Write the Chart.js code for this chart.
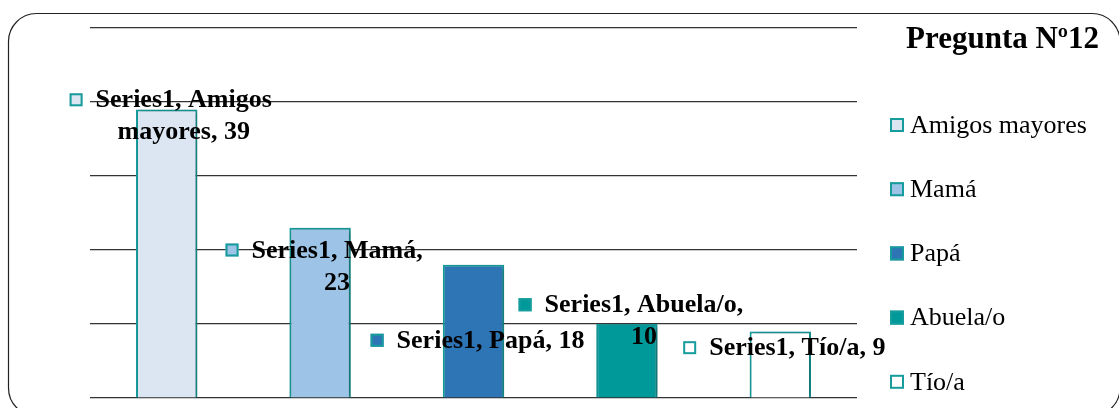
<!DOCTYPE html>
<html>
<head>
<meta charset="utf-8">
<script src="https://cdn.jsdelivr.net/npm/chart.js@4.4.1/dist/chart.umd.min.js"></script>
<style>
html,body{margin:0;padding:0;background:#fff;}
#wrap{width:1119px;height:408px;position:relative;}
</style>
</head>
<body>
<div id="wrap"><canvas id="c"></canvas></div>
<script>
// ---- data ----
const chartTitle = "Pregunta Nº12";
const seriesName = "Series1";
const categories = ["Amigos mayores", "Mamá", "Papá", "Abuela/o", "Tío/a"];
const values = [39, 23, 18, 10, 9];
const barColors = ["#DCE6F2", "#9DC3E6", "#2E75B6", "#009999", "#FFFFFF"];
const barBorder = "#169C9C";
const yTicks = [0, 10, 20, 30, 40, 50];
// label wrapping (words on first line) and label anchor (value units, first line centre)
const labelWrap = [2, 2, 0, 2, 0];
const labelAnchor = [40.3, 20.0, 7.8, 12.6, 6.8];

const SERIF = '"Liberation Serif", "Times New Roman", serif';

const framePlugin = {
  id: 'frame',
  beforeDraw(chart) {
    const ctx = chart.ctx;
    ctx.save();
    ctx.fillStyle = '#fff';
    ctx.fillRect(0, 0, chart.width, chart.height);
    const x0 = 8.5, y0 = 13.5, x1 = 1120, y1 = 416, r = 28;
    ctx.beginPath();
    ctx.moveTo(x0 + r, y0);
    ctx.lineTo(x1 - r, y0);
    ctx.arcTo(x1, y0, x1, y0 + r, r);
    ctx.lineTo(x1, y1 - r);
    ctx.arcTo(x1, y1, x1 - r, y1, r);
    ctx.lineTo(x0 + r, y1);
    ctx.arcTo(x0, y1, x0, y1 - r, r);
    ctx.lineTo(x0, y0 + r);
    ctx.arcTo(x0, y0, x0 + r, y0, r);
    ctx.closePath();
    ctx.strokeStyle = '#222';
    ctx.lineWidth = 1.2;
    ctx.stroke();
    ctx.restore();
  },
  beforeDatasetsDraw(chart) {
    const ctx = chart.ctx;
    ctx.save();
    ctx.shadowColor = 'rgba(0,0,0,0.35)';
    ctx.shadowBlur = 5;
    ctx.shadowOffsetX = 2;
    ctx.shadowOffsetY = 1;
  },
  afterDatasetsDraw(chart) {
    const ctx = chart.ctx;
    ctx.restore();
    const meta = chart.getDatasetMeta(0);
    const yScale = chart.scales.y;
    ctx.save();
    ctx.font = 'bold 26px ' + SERIF;
    ctx.textBaseline = 'middle';
    const lineH = 32, sq = 13, gap = 13;
    meta.data.forEach((bar, i) => {
      const words = (seriesName + ', ' + categories[i] + ', ' + values[i]).split(' ');
      const lines = labelWrap[i] > 0
        ? [words.slice(0, labelWrap[i]).join(' '), words.slice(labelWrap[i]).join(' ')]
        : [words.join(' ')];
      const maxW = Math.max(...lines.map(l => ctx.measureText(l).width));
      const blockW = sq + gap + maxW;
      const cx = bar.x + 4;
      const left = cx - blockW / 2;
      const textCx = left + sq + gap + maxW / 2;
      const y = yScale.getPixelForValue(labelAnchor[i]);
      // legend key
      ctx.fillStyle = barColors[i];
      ctx.fillRect(left, y - sq / 2, sq, sq);
      ctx.strokeStyle = barBorder;
      ctx.lineWidth = 2;
      ctx.strokeRect(left + 1, y - sq / 2 + 1, sq - 2, sq - 2);
      ctx.fillStyle = '#000';
      ctx.textAlign = 'center';
      lines.forEach((l, k) => ctx.fillText(l, textCx, y + k * lineH + 1));
    });
    ctx.restore();
  },
  afterDraw(chart) {
    const ctx = chart.ctx;
    ctx.save();
    // title
    ctx.font = 'bold 31px ' + SERIF;
    ctx.fillStyle = '#000';
    ctx.textAlign = 'left';
    ctx.textBaseline = 'alphabetic';
    ctx.fillText(chartTitle, 906, 48);
    // legend
    ctx.font = '26px ' + SERIF;
    ctx.textBaseline = 'middle';
    const ys = [125, 189, 253, 318, 382];
    categories.forEach((c, i) => {
      const y = ys[0] + i * 64.2;
      ctx.fillStyle = barColors[i];
      ctx.fillRect(890, y - 7, 14, 14);
      ctx.strokeStyle = barBorder;
      ctx.lineWidth = 2;
      ctx.strokeRect(891, y - 6, 12, 12);
      ctx.fillStyle = '#000';
      ctx.fillText(c, 910, y + 1);
    });
    ctx.restore();
  }
};

new Chart(document.getElementById('c'), {
  type: 'bar',
  data: {
    labels: categories,
    datasets: [{
      label: seriesName,
      data: values,
      backgroundColor: barColors,
      borderColor: barBorder,
      borderWidth: 2,
      barPercentage: 0.4,
      categoryPercentage: 1.0
    }]
  },
  options: {
    responsive: true,
    maintainAspectRatio: false,
    animation: false,
    devicePixelRatio: 1,
    layout: { padding: { left: 90, top: 28, right: 262, bottom: 10 } },
    plugins: { legend: { display: false }, tooltip: { enabled: false }, title: { display: false } },
    scales: {
      x: { display: false },
      y: {
        min: yTicks[0], max: yTicks[yTicks.length - 1],
        afterBuildTicks: (s) => { s.ticks = yTicks.map(v => ({ value: v })); },
        ticks: { display: false },
        border: { display: false },
        grid: { color: '#333', lineWidth: 1.2, drawTicks: false },
        afterFit: (s) => { s.width = 0; }
      }
    }
  },
  plugins: [framePlugin]
});
</script>
</body>
</html>
